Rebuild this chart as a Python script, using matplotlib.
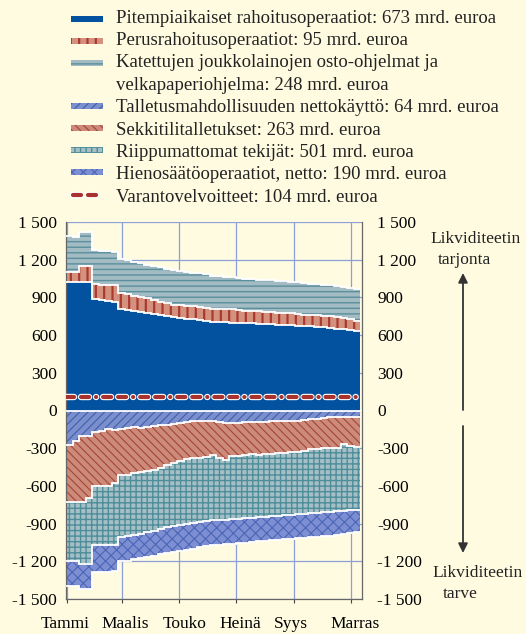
import numpy as np
import matplotlib.pyplot as plt
import matplotlib.patheffects as pe
import matplotlib.transforms as mtransforms
from matplotlib.patches import Rectangle
from matplotlib.lines import Line2D
from matplotlib.ticker import FuncFormatter

plt.rcParams['font.family'] = ['Liberation Serif', 'DejaVu Serif']
plt.rcParams['lines.scale_dashes'] = False

# --- Data (mrd. euroa, weekly, days from start of year) ---
week_edges = np.arange(-1, 315, 7)
month_days = [0, 59, 120, 181, 243, 304]
month_labels = ['Tammi', 'Maalis', 'Touko', 'Heinä', 'Syys', 'Marras']

ltro = [1025, 1025, 1025, 1025, 889, 880, 872, 860, 808, 796, 788, 782, 775, 768, 760,
        750, 742, 737, 731, 726, 720, 714, 708, 705, 702, 700, 698, 697, 693, 690,
        688, 686, 684, 681, 679, 676, 673, 671, 666, 661, 655, 650, 645, 640, 634]
mro = [81, 81, 123, 123, 114, 120, 126, 135, 128, 129, 127, 123, 119, 112, 107,
       105, 100, 101, 104, 102, 100, 101, 98, 99, 104, 109, 104, 98, 99, 100,
       97, 96, 94, 94, 93, 92, 90, 89, 91, 91, 95, 94, 91, 88, 82]
cbpp = [279, 274, 276, 276, 273, 272, 270, 267, 271, 270, 265, 265, 266, 270, 273,
        273, 277, 274, 269, 270, 272, 270, 264, 264, 260, 251, 253, 255, 254, 252,
        253, 253, 256, 255, 253, 252, 251, 248, 247, 246, 245, 244, 244, 244, 247]
deposit = [275, 240, 205, 205, 170, 165, 150, 152, 145, 140, 135, 138, 130, 122, 118,
           112, 106, 100, 90, 85, 82, 85, 82, 95, 98, 100, 103, 95, 90, 88,
           90, 85, 85, 85, 82, 80, 72, 68, 65, 58, 55, 52, 55, 50, 55]
current_acc = [454, 489, 527, 495, 427, 432, 450, 423, 372, 370, 365, 353, 350, 348, 337,
               320, 314, 300, 295, 293, 296, 285, 276, 280, 297, 265, 257, 260, 260, 264,
               255, 260, 255, 250, 250, 250, 248, 242, 240, 242, 245, 243, 215, 235, 237]
autonomous = [465, 465, 488, 520, 477, 477, 472, 495, 491, 490, 490, 489, 490, 485, 487,
              498, 501, 512, 517, 517, 512, 512, 517, 497, 473, 500, 502, 503, 503, 498,
              501, 496, 498, 499, 498, 495, 502, 508, 509, 510, 507, 508, 528, 509, 496]
fine_tuning = [199, 199, 204, 204, 212, 212, 214, 210, 193, 195, 195, 190, 192, 200, 203,
               205, 206, 206, 208, 205, 198, 198, 199, 196, 196, 195, 194, 194, 193, 190,
               190, 191, 192, 192, 192, 193, 192, 192, 191, 190, 188, 187, 184, 181, 180]
reserve_req = [104] * 45

legend_labels = [
    'Pitempiaikaiset rahoitusoperaatiot: 673 mrd. euroa',
    'Perusrahoitusoperaatiot: 95 mrd. euroa',
    'Katettujen joukkolainojen osto-ohjelmat ja\nvelkapaperiohjelma: 248 mrd. euroa',
    'Talletusmahdollisuuden nettokäyttö: 64 mrd. euroa',
    'Sekkitilitalletukset: 263 mrd. euroa',
    'Riippumattomat tekijät: 501 mrd. euroa',
    'Hienosäätöoperaatiot, netto: 190 mrd. euroa',
    'Varantovelvoitteet: 104 mrd. euroa',
]

# (facecolor, hatch colour, hatch, hatch width)
styles_pos = [('#0252a0', '#0252a0', None, 1.0),
              ('#d4917e', '#a93a30', '||', 1.6),
              ('#a3bcc4', '#5a8f9c', '---', 1.0)]
styles_neg = [('#7b8fcd', '#3f5fae', '////', 0.8),
              ('#cc8a79', '#a5443c', '\\\\\\\\', 0.8),
              ('#a6bfc7', '#4d8e9a', '+++', 1.0),
              ('#7d8ed2', '#4a66b6', 'xxx', 0.8)]
bg = '#fffbe1'
red = '#a8322d'
grid_col = '#8c9fd9'

fig = plt.figure(figsize=(5.26, 6.34), dpi=100, facecolor=bg)
ax = fig.add_axes([66 / 526, 35 / 634, 296 / 526, 377 / 634], facecolor=bg)


def layer(vals, base, sign, style):
    top = base + sign * np.asarray(vals, dtype=float)
    fc, hc, hatch, hw = style
    p = ax.stairs(top, week_edges, baseline=base, fill=True, facecolor=fc,
                  edgecolor=hc, linewidth=0, hatch=hatch, zorder=2)
    if hasattr(p, 'set_hatch_linewidth'):
        p.set_hatch_linewidth(hw)
    ax.stairs(top, week_edges, baseline=None, color='white', linewidth=1.3, zorder=3)
    return top


base = np.zeros(45)
for vals, st in zip([ltro, mro, cbpp], styles_pos):
    base = layer(vals, base, 1, st)
base = np.zeros(45)
for vals, st in zip([deposit, current_acc, autonomous, fine_tuning], styles_neg):
    base = layer(vals, base, -1, st)
ax.axhline(0, color='white', lw=1.3, zorder=3)

dash = (0, (5.8, 5.0, 5.8, 5.0, 0.1, 5.0))
outline = [pe.Stroke(linewidth=4.6, foreground='white'), pe.Normal()]
ax.plot(week_edges, reserve_req + reserve_req[-1:], drawstyle='steps-post', color=red,
        linewidth=3.0, linestyle=dash, dash_capstyle='round', zorder=4,
        path_effects=outline)

ax.set_xlim(-1, 316)
ax.set_ylim(-1500, 1500)
yt = np.arange(-1500, 1501, 300)


def fmt(v, pos=None):
    s = f"{abs(int(v)):,}".replace(',', ' ')
    return '-' + s if v < 0 else s


ax.set_yticks(yt)
ax.yaxis.set_major_formatter(FuncFormatter(fmt))
ax.set_xticks(month_days)
ax.set_xticklabels(month_labels)
ax.tick_params(axis='y', length=0, pad=6.5, labelsize=12.5)
ax.tick_params(axis='x', direction='out', length=3, color='#444444', pad=9.5,
               labelsize=12.5)
# labels sit a little off their ticks in the original
for lab, dx in zip(ax.get_xticklabels(), [-2, 3, 6, 4, -3, 4]):
    lab.set_transform(lab.get_transform() +
                      mtransforms.ScaledTranslation(dx / 100, 0, fig.dpi_scale_trans))
ax.grid(True, color=grid_col, lw=0.9)
ax.set_axisbelow(True)
ax.spines['top'].set_visible(False)
for s in ['left', 'right', 'bottom']:
    ax.spines[s].set_color('#666666')
    ax.spines[s].set_linewidth(0.9)

ax2 = ax.twinx()
ax2.set_ylim(-1500, 1500)
ax2.set_yticks(yt)
ax2.yaxis.set_major_formatter(FuncFormatter(fmt))
ax2.tick_params(axis='y', length=0, pad=11, labelsize=12.5)
for s in ax2.spines.values():
    s.set_visible(False)


# --- Legend drawn in pixel positions ---
def fx(px):
    return px / 526


def fy(py):
    return 1 - py / 634


handle_y = [19, 40.7, 62.7, 106, 128.3, 150, 171.5]
text_base = [22.7, 45.0, 67.4, 89.8, 112.2, 134.6, 157.0, 179.4, 201.8]
all_styles = styles_pos + styles_neg
for hy, st in zip(handle_y, all_styles):
    fc, hc, hatch, hw = st
    r = Rectangle((fx(71), fy(hy + 3)), fx(32), 6 / 634, transform=fig.transFigure,
                  facecolor=fc, edgecolor=hc, linewidth=0, hatch=hatch)
    if hasattr(r, 'set_hatch_linewidth'):
        r.set_hatch_linewidth(hw)
    fig.add_artist(r)
fig.add_artist(Line2D([fx(73), fx(103)], [fy(195), fy(195)], transform=fig.transFigure,
                      color=red, linewidth=3.0, linestyle=dash, dash_capstyle='round',
                      path_effects=outline))

lines = []
for lab in legend_labels:
    lines.extend(lab.split('\n'))
for tb, txt in zip(text_base, lines):
    fig.text(fx(116), fy(tb), txt, ha='left', va='baseline', fontsize=13.5, color='#222222')

# --- Side annotations ---
arrow = dict(arrowstyle='-|>', color='#333333', lw=1.3, mutation_scale=14,
             shrinkA=0, shrinkB=0)
ax.annotate('', xy=(fx(463), fy(273)), xytext=(fx(463), fy(410)),
            xycoords='figure fraction', textcoords='figure fraction', arrowprops=arrow)
ax.annotate('', xy=(fx(463), fy(553)), xytext=(fx(463), fy(426)),
            xycoords='figure fraction', textcoords='figure fraction', arrowprops=arrow)
for x, y, t in [(430, 242.7, 'Likviditeetin'), (438, 264, 'tarjonta'),
                (432.7, 576.7, 'Likviditeetin'), (443, 597.7, 'tarve')]:
    fig.text(fx(x), fy(y), t, ha='left', va='baseline', fontsize=12.5, color='#222222')

fig.savefig('out.png', dpi=100, facecolor=bg)
